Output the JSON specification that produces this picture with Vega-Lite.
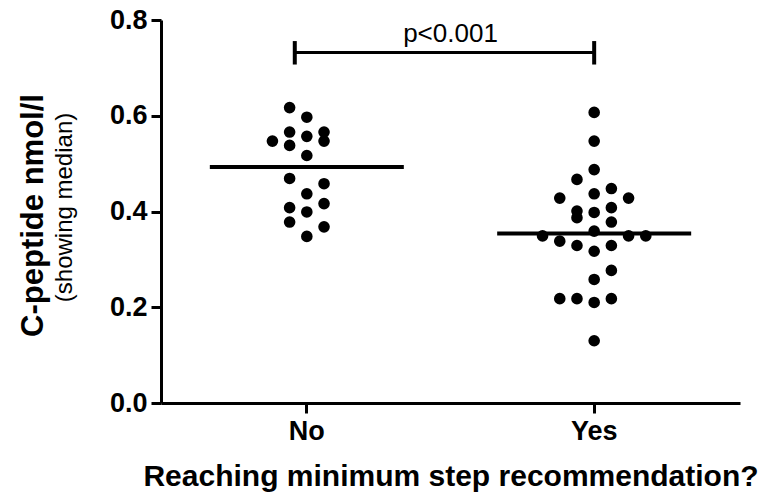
{
  "$schema": "https://vega.github.io/schema/vega-lite/v6.json",
  "width": 579,
  "height": 383,
  "autosize": {"type": "none"},
  "padding": {"left": 161, "top": 20, "right": 27, "bottom": 98},
  "background": "white",
  "config": {
    "font": "Liberation Sans",
    "view": {"stroke": null},
    "axis": {
      "domainColor": "black",
      "domainWidth": 3,
      "tickColor": "black",
      "tickWidth": 3,
      "tickSize": 10,
      "labelColor": "black",
      "titleColor": "black",
      "labelFont": "Liberation Sans",
      "titleFont": "Liberation Sans",
      "labelFontWeight": "bold",
      "labelFontSize": 27,
      "grid": false
    }
  },
  "datasets": {
    "cpeptide": [
      {"group": "No", "slot": -1, "value": 0.617},
      {"group": "No", "slot": 0, "value": 0.597},
      {"group": "No", "slot": -1, "value": 0.566},
      {"group": "No", "slot": 0, "value": 0.557},
      {"group": "No", "slot": 1, "value": 0.566},
      {"group": "No", "slot": 1, "value": 0.547},
      {"group": "No", "slot": -2, "value": 0.547},
      {"group": "No", "slot": -1, "value": 0.538},
      {"group": "No", "slot": 0, "value": 0.517},
      {"group": "No", "slot": -1, "value": 0.469},
      {"group": "No", "slot": 1, "value": 0.458},
      {"group": "No", "slot": 0, "value": 0.437},
      {"group": "No", "slot": 1, "value": 0.4165},
      {"group": "No", "slot": -1, "value": 0.408},
      {"group": "No", "slot": 0, "value": 0.399},
      {"group": "No", "slot": -1, "value": 0.378},
      {"group": "No", "slot": 1, "value": 0.368},
      {"group": "No", "slot": 0, "value": 0.348},
      {"group": "Yes", "slot": 0, "value": 0.607},
      {"group": "Yes", "slot": 0, "value": 0.547},
      {"group": "Yes", "slot": 0, "value": 0.4875},
      {"group": "Yes", "slot": -1, "value": 0.467},
      {"group": "Yes", "slot": -2, "value": 0.428},
      {"group": "Yes", "slot": 0, "value": 0.437},
      {"group": "Yes", "slot": 1, "value": 0.448},
      {"group": "Yes", "slot": 2, "value": 0.428},
      {"group": "Yes", "slot": -1, "value": 0.401},
      {"group": "Yes", "slot": -1, "value": 0.387},
      {"group": "Yes", "slot": 0, "value": 0.398},
      {"group": "Yes", "slot": 1, "value": 0.408},
      {"group": "Yes", "slot": 1, "value": 0.378},
      {"group": "Yes", "slot": 0, "value": 0.359},
      {"group": "Yes", "slot": -3, "value": 0.349},
      {"group": "Yes", "slot": -2, "value": 0.338},
      {"group": "Yes", "slot": 2, "value": 0.349},
      {"group": "Yes", "slot": 3, "value": 0.349},
      {"group": "Yes", "slot": -1, "value": 0.329},
      {"group": "Yes", "slot": 0, "value": 0.317},
      {"group": "Yes", "slot": 1, "value": 0.329},
      {"group": "Yes", "slot": 1, "value": 0.277},
      {"group": "Yes", "slot": 0, "value": 0.258},
      {"group": "Yes", "slot": -2, "value": 0.218},
      {"group": "Yes", "slot": -1, "value": 0.218},
      {"group": "Yes", "slot": 0, "value": 0.21},
      {"group": "Yes", "slot": 1, "value": 0.218},
      {"group": "Yes", "slot": 0, "value": 0.13}
    ],
    "bracket": [
      {"group": "No", "slot": -0.7, "value": 0.732, "lo": 0.707, "hi": 0.756},
      {"group": "Yes", "slot": 0, "value": 0.732, "lo": 0.707, "hi": 0.756}
    ],
    "pvalue": [
      {"label": "p<0.001", "value": 0.754}
    ]
  },
  "resolve": {"axis": {"y": "independent"}},
  "layer": [
    {
      "data": {"name": "cpeptide"},
      "mark": {"type": "point", "filled": true, "shape": "circle", "size": 135, "color": "black", "opacity": 1},
      "encoding": {
        "x": {
          "field": "group", "type": "nominal",
          "scale": {"domain": ["No", "Yes"], "paddingInner": 0.521, "paddingOuter": 0.268},
          "axis": {
            "title": "Reaching minimum step recommendation?",
            "titleFontSize": 30,
            "titleFontWeight": "bold",
            "titlePadding": 17,
            "labelAngle": 0,
            "labelPadding": 5
          }
        },
        "xOffset": {"field": "slot", "type": "quantitative", "scale": {"domain": [-4, 4]}},
        "y": {
          "field": "value", "type": "quantitative",
          "scale": {"domain": [0, 0.8], "nice": false, "zero": true},
          "axis": {
            "orient": "left",
            "values": [0, 0.2, 0.4, 0.6, 0.8],
            "format": ".1f",
            "labelPadding": 4,
            "title": "C-peptide nmol/l",
            "titleFontSize": 31,
            "titleFontWeight": "bold",
            "titleAngle": -90,
            "titleAlign": "center",
            "titleBaseline": "alphabetic",
            "titleX": -119,
            "titleY": 195
          }
        }
      }
    },
    {
      "data": {"name": "cpeptide"},
      "mark": {"type": "tick", "size": 194, "thickness": 4, "color": "black", "opacity": 1},
      "encoding": {
        "x": {"field": "group", "type": "nominal"},
        "y": {
          "aggregate": "median", "field": "value", "type": "quantitative",
          "axis": {
            "orient": "left",
            "labels": false,
            "ticks": false,
            "domain": false,
            "title": "(showing median)",
            "titleFontSize": 24,
            "titleFontWeight": "normal",
            "titleAngle": -90,
            "titleAlign": "center",
            "titleBaseline": "alphabetic",
            "titleX": -90,
            "titleY": 187
          }
        }
      }
    },
    {
      "data": {"name": "bracket"},
      "mark": {"type": "line", "color": "black", "strokeWidth": 3},
      "encoding": {
        "x": {"field": "group", "type": "nominal"},
        "xOffset": {"field": "slot", "type": "quantitative"},
        "y": {"field": "value", "type": "quantitative", "axis": null}
      }
    },
    {
      "data": {"name": "bracket"},
      "mark": {"type": "rule", "color": "black", "strokeWidth": 4},
      "encoding": {
        "x": {"field": "group", "type": "nominal"},
        "xOffset": {"field": "slot", "type": "quantitative"},
        "y": {"field": "lo", "type": "quantitative", "axis": null},
        "y2": {"field": "hi"}
      }
    },
    {
      "data": {"name": "pvalue"},
      "mark": {"type": "text", "fontSize": 26, "color": "black", "baseline": "alphabetic", "align": "center"},
      "encoding": {
        "y": {"field": "value", "type": "quantitative", "axis": null},
        "text": {"field": "label"}
      }
    }
  ]
}
